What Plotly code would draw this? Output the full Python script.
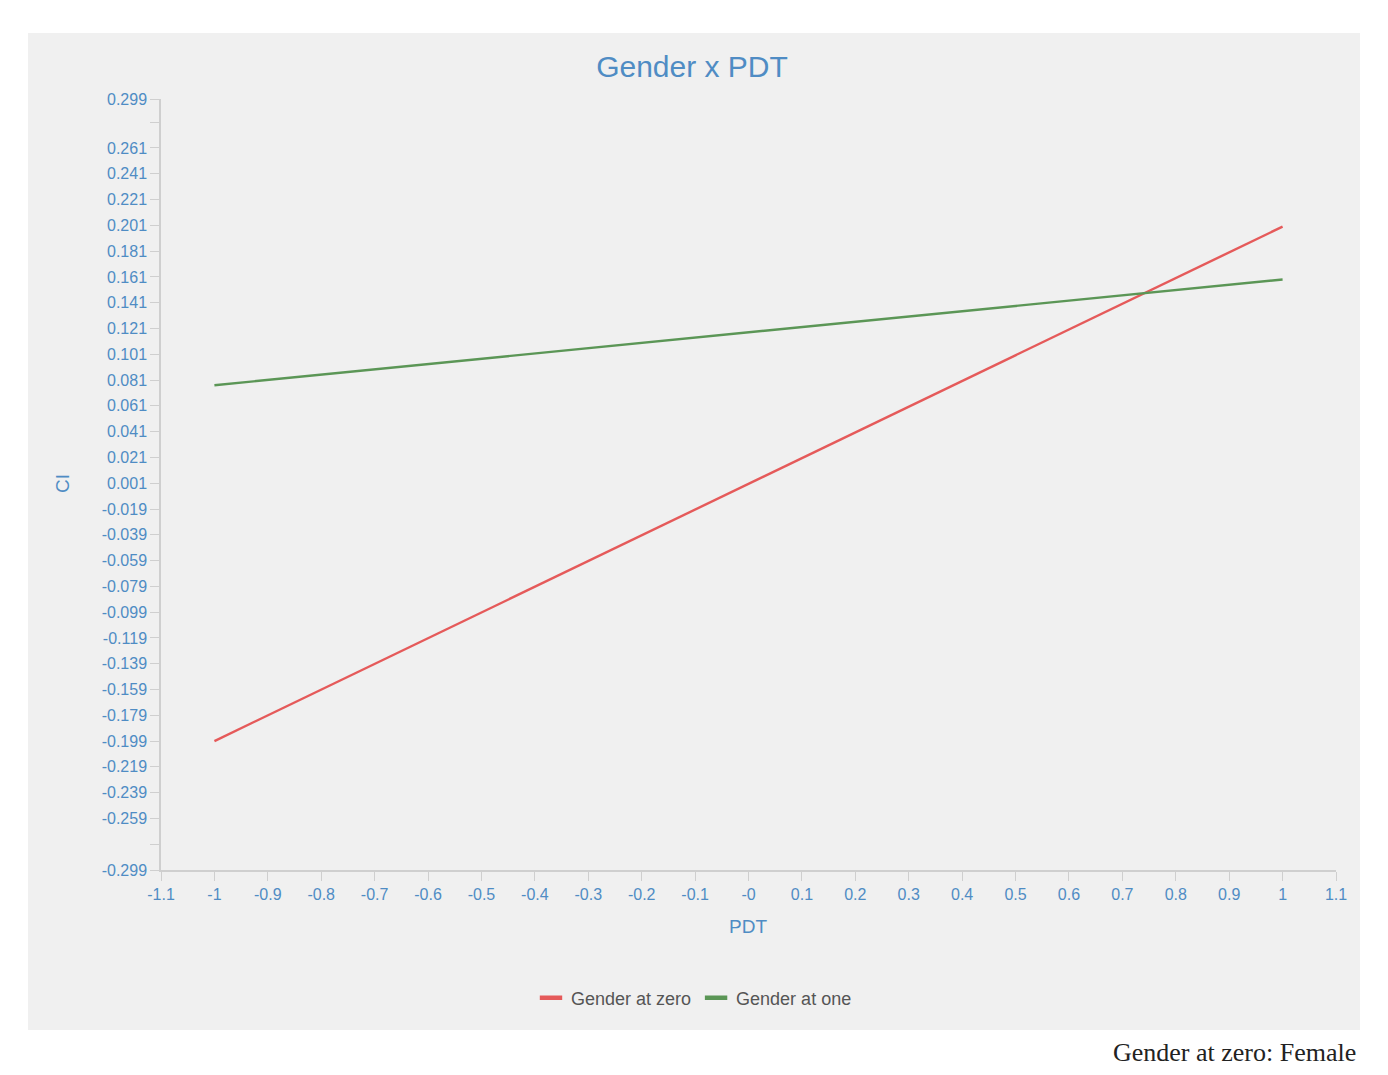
import plotly.graph_objects as go

# Data
pdt = [-1, 1]
gender_zero = [-0.199, 0.200]
gender_one = [0.077, 0.159]
series_names = ["Gender at zero", "Gender at one"]
series_colors = ["#e55a5a", "#5b9656"]

x_ticks = [round(-1.1 + 0.1 * i, 1) for i in range(23)]
x_labels = ["-0" if abs(v) < 1e-9 else ("%g" % v) for v in x_ticks]
y_ticks = [-0.299] + [round(-0.279 + 0.02 * i, 3) for i in range(29)] + [0.299]
y_labels = []
for v in y_ticks:
    if abs(v - 0.281) < 1e-6 or abs(v + 0.279) < 1e-6:
        y_labels.append("")
    else:
        y_labels.append("%.3f" % v)

W, H = 1388, 1075
L, R, T, B = 161, 1336, 99, 870
pw, ph = R - L, B - T

def px(x):
    return (x - L) / pw

def py(y):
    return (B - y) / ph

blue = "#4f8cc4"
fig = go.Figure()
for name, ys, col in zip(series_names, [gender_zero, gender_one], series_colors):
    fig.add_trace(go.Scatter(x=pdt, y=ys, mode="lines", name=name, showlegend=False,
                             line=dict(color=col, width=2.4)))
    # legend entry with short thick dash symbol
    fig.add_trace(go.Scatter(x=[None], y=[None], mode="markers", name=name,
                             marker=dict(symbol="line-ew", size=17,
                                         line=dict(color=col, width=4.5))))

fig.update_layout(
    width=W, height=H,
    margin=dict(l=L, r=W - R, t=T, b=H - B),
    paper_bgcolor="white", plot_bgcolor="#f0f0f0",
    font=dict(family="Liberation Sans, Arial, sans-serif", color=blue, size=16),
    title=dict(text="Gender x PDT", x=692 / W, xanchor="center", y=1 - 66 / H, yanchor="middle",
               font=dict(size=30, color=blue)),
    showlegend=True,
    legend=dict(orientation="h", x=px(694), xanchor="center", y=py(998), yanchor="middle",
                font=dict(size=18, color="#555555"), bgcolor="rgba(0,0,0,0)",
                itemwidth=30, tracegroupgap=0),
    xaxis=dict(range=[-1.1, 1.1], tickvals=x_ticks, ticktext=x_labels, showgrid=False,
               zeroline=False, showline=True, linecolor="#cfcfcf", linewidth=1.5,
               ticks="outside", ticklen=9, tickcolor="#cfcfcf", tickfont=dict(size=16, color=blue)),
    yaxis=dict(range=[-0.299, 0.299], tickvals=y_ticks, ticktext=y_labels, showgrid=False,
               zeroline=False, showline=True, linecolor="#cfcfcf", linewidth=1.5,
               ticks="outside", ticklen=9, tickcolor="#cfcfcf", tickfont=dict(size=16, color=blue)),
    shapes=[dict(type="rect", xref="paper", yref="paper", x0=px(28), x1=px(1360), y0=py(1030), y1=py(33),
                 fillcolor="#f0f0f0", line=dict(width=0), layer="below")],
    annotations=[
        dict(text="CI", xref="paper", yref="paper", x=px(62), y=py(484), showarrow=False,
             textangle=-90, font=dict(size=19, color=blue), xanchor="center", yanchor="middle"),
        dict(text="PDT", xref="paper", yref="paper", x=px(748), y=py(926), showarrow=False,
             font=dict(size=19, color=blue), xanchor="center", yanchor="middle"),
        dict(text="Gender at zero: Female", xref="paper", yref="paper", x=px(1358), y=py(1052),
             showarrow=False, font=dict(size=26, color="#222222", family="Liberation Serif, Times New Roman, serif"),
             xanchor="right", yanchor="middle"),
    ],
)
fig.write_html("out.html")
